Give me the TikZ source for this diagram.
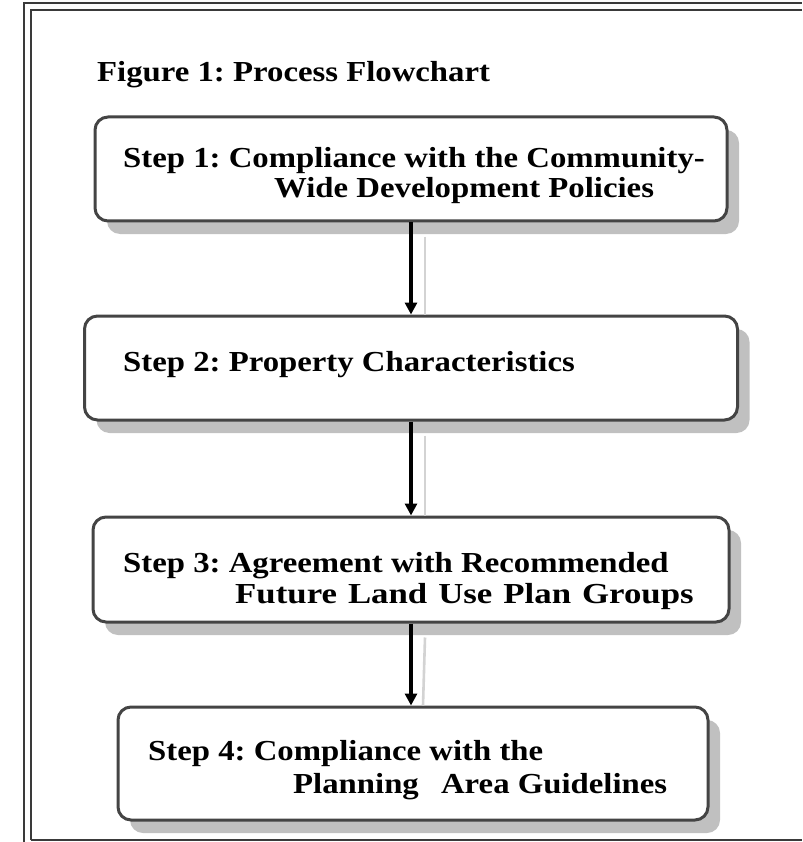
\documentclass[tikz,border=0pt]{standalone}
\usepackage{fontspec}
\setmainfont{Liberation Serif}
\newfontfamily\stepfont[FakeStretch=1.13]{Liberation Serif}
\newfontfamily\widestepfont[FakeStretch=1.2]{Liberation Serif}
\usetikzlibrary{arrows.meta,shadows}
\definecolor{framec}{HTML}{3A3A3A}
\definecolor{boxc}{HTML}{444444}
\definecolor{shadc}{HTML}{C0C0C0}
\tikzset{
  stepbox/.style={draw=boxc, line width=3pt, rounded corners=13pt, fill=white,
    inner sep=0pt, drop shadow={shadow xshift=12pt, shadow yshift=-13pt, fill=shadc, opacity=1}},
  steptext/.style={anchor=base west, inner sep=0pt, font=\stepfont\bfseries\fontsize{29}{30}\selectfont},
  flow/.style={line width=3.2pt, black, -{Triangle[width=12pt,length=12pt]}},
  flowshadow/.style={line width=2.6pt, shadc!70},
  frameline/.style={line width=2.6pt, framec}
}
\newcommand{\wsp}{\hspace{11pt}}
\begin{document}
\frenchspacing
\begin{tikzpicture}[x=1pt,y=-1pt]
\useasboundingbox (0,0) rectangle (802,842);
% frame
\draw[frameline] (24,842) -- (24,3) -- (802,3);
\draw[frameline] (31,840) -- (31,10) -- (802,10);
\draw[frameline] (31,840) -- (802,840);
% title
\node[steptext] (title) at (97,82) {Figure 1: Process Flowchart};
% boxes
\node[stepbox, minimum width=632pt, minimum height=104pt] (b1) at (411,169) {};
\node[stepbox, minimum width=653pt, minimum height=104pt] (b2) at (411,368) {};
\node[stepbox, minimum width=636pt, minimum height=105pt] (b3) at (411,569.5) {};
\node[stepbox, minimum width=590pt, minimum height=113pt] (b4) at (413,763.5) {};
% texts
\node[steptext] (t1a) at (123,168) {Step 1: Compliance with the Community-};
\node[steptext] (t1b) at (274,198) {Wide Development Policies};
\node[steptext] (t2) at (123,371) {Step 2: Property Characteristics};
\node[steptext] (t3a) at (123,572) {Step 3: Agreement with Recommended};
\node[steptext, font=\widestepfont\bfseries\fontsize{29}{30}\selectfont] (t3b) at (235,603) {Future\wsp Land\wsp Use\wsp Plan\wsp Groups};
\node[steptext] (t4a) at (148,760) {Step 4: Compliance with the};
\node[steptext] (t4b) at (293,793) {Planning\hspace{14pt} Area Guidelines};
% arrow shadows
\draw[flowshadow] ([xshift=14pt,yshift=-14pt]b1.south) -- ([xshift=14pt]b2.north);
\draw[flowshadow] ([xshift=14pt,yshift=-14pt]b2.south) -- ([xshift=14pt]b3.north);
\draw[flowshadow] ([xshift=14pt,yshift=-14pt]b3.south) -- ([xshift=12pt]b3.south |- b4.north);
% arrows
\draw[flow] (b1.south) -- (b2.north);
\draw[flow] (b2.south) -- (b3.north);
\draw[flow] (b3.south) -- (b3.south |- b4.north);
\end{tikzpicture}
\end{document}
